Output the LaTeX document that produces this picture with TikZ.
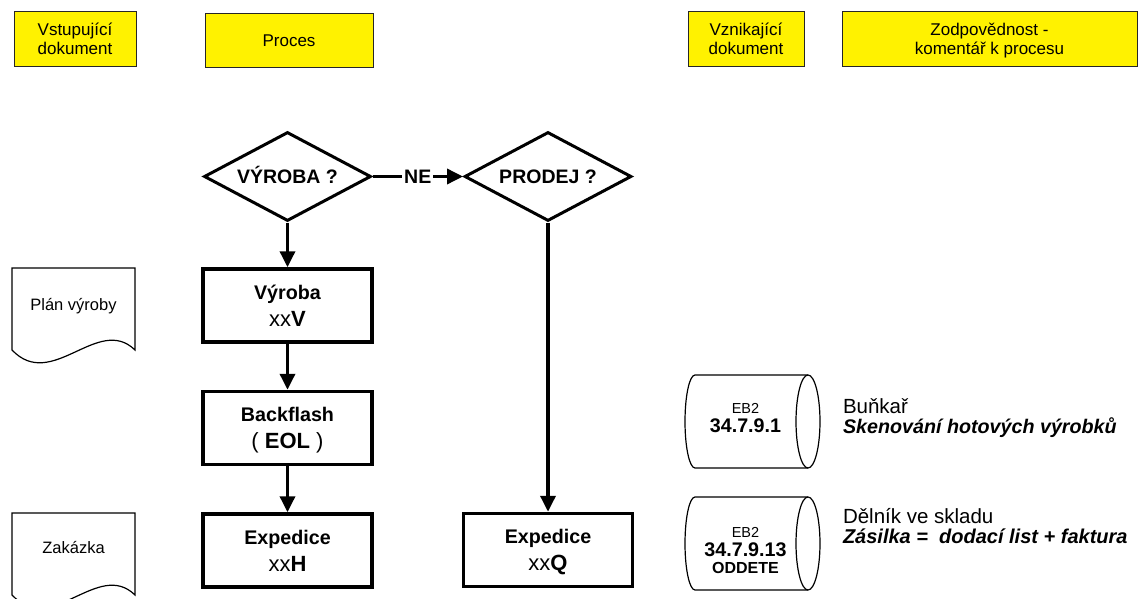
\documentclass[tikz,border=0pt]{standalone}
\usepackage{fontspec}
\setmainfont{Liberation Sans}
\usetikzlibrary{shapes.geometric,arrows.meta}
\newcommand\Sr[2]{\rule[-#2pt]{0pt}{\dimexpr#1pt+#2pt\relax}}
\newcommand\ml[2][c]{{\renewcommand\arraystretch{0}\begin{tabular}{@{}#1@{}}#2\end{tabular}}}
\newcommand\fs[1]{\fontsize{#1}{#1}\selectfont}
\begin{document}
\begin{tikzpicture}[x=1pt,y=-1pt,
  hdr/.style={draw=black!85, line width=1pt, fill=yellow, inner sep=0pt, outer sep=0pt, font=\fs{17}},
  proc/.style={draw, line width=3.5pt, inner sep=0pt, minimum width=169pt, minimum height=73pt, font=\fs{19.7}},
  dec/.style={draw, diamond, aspect=1.86, line width=3pt, inner sep=0pt, minimum width=167pt, minimum height=89pt, font=\fs{19.5}\bfseries},
  arr/.style={line width=3.5pt, -{Triangle[length=16pt,width=15pt]}},
  thinl/.style={line width=1.2pt},
  doc/.style={font=\fs{16.5}, anchor=base},
  store/.style={inner sep=0pt, outer sep=0pt, minimum width=101pt, minimum height=93pt},
  note/.style={inner sep=0pt, outer sep=0pt, anchor=north west}
]
\useasboundingbox (0,0) rectangle (1138,599);

% header
\node[hdr, minimum width=122pt, minimum height=55pt] (h1) at (75,39.5) {\ml{\Sr{16}{4}Vstupující\\\Sr{15}{4}dokument}};
\node[hdr, minimum width=168pt, minimum height=54pt] (h2) at (289,41) {\ml{\Sr{15}{3.6}Proces}};
\node[hdr, minimum width=116pt, minimum height=55pt] (h3) at (746,39.5) {\ml{\Sr{16}{4}Vznikající\\\Sr{15}{4}dokument}};
\node[hdr, minimum width=295pt, minimum height=55pt] (h4) at (989.5,39.5) {\ml{\Sr{16}{4}Zodpovědnost -\\\Sr{15}{4}komentář k procesu}};

% decisions
\node[dec] (q1) at (287.5,176.5) {\ml{\Sr{18.5}{4.9}VÝROBA ?}};
\node[dec] (q2) at (548,176.5) {\ml{\Sr{18.5}{4.9}PRODEJ ?}};

% process boxes
\node[proc] (b1) at (287.5,305.5) {\ml{\Sr{20}{6.7}\textbf{Výroba}\\\Sr{20}{5.7}\fs{22}xx\textbf{V}}};
\node[proc] (b2) at (287.5,428) {\ml{\Sr{20}{6.7}\textbf{Backflash}\\\Sr{20}{5.7}\fs{22}( \textbf{EOL} )}};
\node[proc] (b3) at (287.5,550.5) {\ml{\Sr{20}{6.7}\textbf{Expedice}\\\Sr{20}{5.7}\fs{22}xx\textbf{H}}};
\node[proc] (b4) at (548,550) {\ml{\Sr{20}{6.7}\textbf{Expedice}\\\Sr{20}{5.7}\fs{22}xx\textbf{Q}}};

% connectors
\draw[arr] (q1.east) -- node[fill=white, inner sep=2pt, font=\fs{19.5}\bfseries] (ne) {NE} (q2.west);
\draw[arr] (q1.south) -- (b1.north);
\draw[arr] (b1.south) -- (b2.north);
\draw[arr] (b2.south) -- (b3.north);
\draw[arr] (q2.south) -- (b4.north);

% input documents
\draw[thinl] (12,268) -- (135,268) -- (135,350) .. controls (98,314) and (52,392) .. (12,350) -- cycle;
\node[doc] (plan) at (73.5,310) {Plán výroby};
\draw[thinl] (12,513) -- (135,513) -- (135,595) .. controls (98,559) and (52,637) .. (12,595) -- cycle;
\node[doc] (zak) at (73.5,553) {Zakázka};

% stored data
\node[store] (c1) at (745.5,421.5) {\ml{\Sr{12}{4}\fs{14.5}EB2\\\Sr{15}{10}\fs{19.7}\bfseries 34.7.9.1}};
\draw[thinl] (c1.north west) arc[start angle=90,end angle=270,x radius=10pt,y radius=46.5pt] -- ([xshift=12pt]c1.south east) arc[start angle=-90,end angle=90,x radius=12pt,y radius=46.5pt] -- cycle;
\draw[thinl] ([xshift=12pt]c1.north east) arc[start angle=90,end angle=270,x radius=12pt,y radius=46.5pt];

\node[store] (c2) at (745.5,543.5) {\ml{\Sr{25}{4}\fs{14.5}EB2\\\Sr{15}{4}\fs{19.7}\bfseries 34.7.9.13\\\Sr{13}{2}\fs{16}\bfseries ODDETE}};
\draw[thinl] (c2.north west) arc[start angle=90,end angle=270,x radius=10pt,y radius=46.5pt] -- ([xshift=12pt]c2.south east) arc[start angle=-90,end angle=90,x radius=12pt,y radius=46.5pt] -- cycle;
\draw[thinl] ([xshift=12pt]c2.north east) arc[start angle=90,end angle=270,x radius=12pt,y radius=46.5pt];

% notes
\node[note] (n1) at (843,397) {\ml[l]{\Sr{16}{5}\fs{20.5}Buňkař\\\Sr{15}{5}\fs{19.7}\bfseries\itshape Skenování hotových výrobků}};
\node[note] (n2) at (843,507) {\ml[l]{\Sr{16}{5}\fs{20.5}Dělník ve skladu\\\Sr{15}{5}\fs{20}\bfseries\itshape Zásilka =\ \ dodací list + faktura}};
\end{tikzpicture}
\end{document}
